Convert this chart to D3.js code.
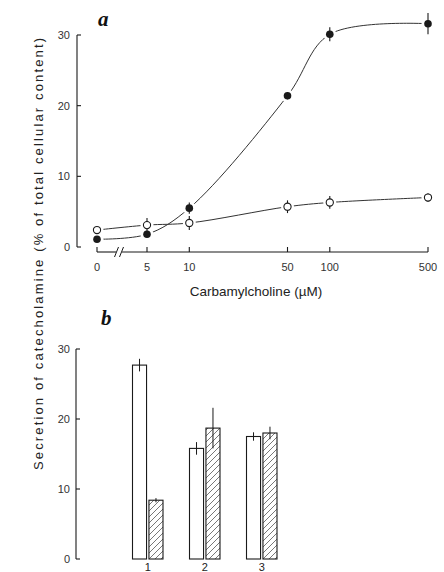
<!DOCTYPE html>
<html><head><meta charset="utf-8">
<script src="https://cdn.jsdelivr.net/npm/d3@7"></script>
<style>body{margin:0;background:#fff}svg{display:block}</style>
</head><body>
<script>
// ---- Data panel a ----
const concentrations = [0, 5, 10, 50, 100, 500];
const xTickLabels = ["0", "5", "10", "50", "100", "500"];
const filledMean = [1.1, 1.8, 5.5, 21.4, 30.1, 31.6];
const filledErr  = [0, 0, 0.8, 0.5, 1.0, 1.5];
const openMean   = [2.4, 3.1, 3.4, 5.7, 6.3, 7.0];
const openErr    = [0.3, 1.0, 1.0, 0.9, 0.9, 0.6];
const yTicksA = [0, 10, 20, 30];
// ---- Data panel b ----
const groups = ["1", "2", "3"];
const openBar  = [27.7, 15.8, 17.5];
const openBarErr = [0.9, 0.9, 0.6];
const hatchBar = [8.4, 18.7, 18.0];
const hatchBarErr = [0.3, 2.9, 0.9];
const yTicksB = [0, 10, 20, 30];

const W = 444, H = 572;
const ink = "#1a1a1a";
const svg = d3.select("body").append("svg").attr("width", W).attr("height", H);
const font = "'Liberation Sans', Arial, sans-serif";

// ---------- Panel a ----------
const yA = d3.scaleLinear().domain([0, 30]).range([247, 35]);
const xLog = d3.scaleLog().domain([5, 500]).range([147, 428]);
const xA = c => c === 0 ? xLog(5) - 50 : xLog(c);
const axisAX = 77, axisAY = 252;

const ga = svg.append("g");
// y axis
ga.append("line").attr("x1", axisAX).attr("x2", axisAX).attr("y1", yA(30)).attr("y2", yA(0))
  .attr("stroke", ink).attr("stroke-width", 1.1);
ga.selectAll(".yta").data(yTicksA).join("line")
  .attr("x1", axisAX).attr("x2", axisAX + 4).attr("y1", d => yA(d)).attr("y2", d => yA(d))
  .attr("stroke", ink).attr("stroke-width", 1.1);
ga.selectAll(".ylA").data(yTicksA).join("text")
  .attr("x", axisAX - 7).attr("y", d => yA(d) + 4).attr("text-anchor", "end")
  .attr("font-family", font).attr("font-size", 11).attr("fill", "#333").text(d => d);
// x axis with break
const x0p = xA(0), bx = x0p + 22;
ga.append("line").attr("x1", x0p).attr("x2", bx - 3).attr("y1", axisAY).attr("y2", axisAY)
  .attr("stroke", ink).attr("stroke-width", 1.1);
ga.append("line").attr("x1", bx + 3).attr("x2", xA(500)).attr("y1", axisAY).attr("y2", axisAY)
  .attr("stroke", ink).attr("stroke-width", 1.1);
[-2.5, 2.5].forEach(o => {
  ga.append("line").attr("x1", bx + o - 2).attr("x2", bx + o + 2)
    .attr("y1", axisAY + 5).attr("y2", axisAY - 5).attr("stroke", ink).attr("stroke-width", 1);
});
ga.selectAll(".xta").data(concentrations).join("line")
  .attr("x1", d => xA(d)).attr("x2", d => xA(d)).attr("y1", axisAY).attr("y2", axisAY - 5)
  .attr("stroke", ink).attr("stroke-width", 1.1);
ga.selectAll(".xla").data(concentrations).join("text")
  .attr("x", d => xA(d)).attr("y", axisAY + 19).attr("text-anchor", "middle")
  .attr("font-family", font).attr("font-size", 11).attr("fill", "#333")
  .text((d, i) => xTickLabels[i]);
ga.append("text").attr("x", 256).attr("y", 296).attr("text-anchor", "middle")
  .attr("font-family", font).attr("font-size", 13.5).attr("fill", "#222")
  .text("Carbamylcholine (µM)");
ga.append("text").attr("x", 98).attr("y", 26).attr("font-family", "'Liberation Serif', 'DejaVu Serif', serif")
  .attr("font-style", "italic").attr("font-weight", "bold").attr("font-size", 21).attr("fill", "#111").text("a");

// curves
const line = d3.line().x(d => xA(d.c)).y(d => yA(d.v)).curve(d3.curveCatmullRom.alpha(0.5));
const fData = concentrations.map((c, i) => ({c, v: filledMean[i], e: filledErr[i]}));
const oData = concentrations.map((c, i) => ({c, v: openMean[i], e: openErr[i]}));
[fData, oData].forEach(dd => {
  ga.append("path").attr("d", line(dd)).attr("fill", "none").attr("stroke", "#333").attr("stroke-width", 1);
});
// halos to create gaps
[...fData, ...oData].forEach(d => {
  ga.append("circle").attr("cx", xA(d.c)).attr("cy", yA(d.v)).attr("r", 6.5).attr("fill", "#fff");
});
// error bars
[...fData, ...oData].forEach(d => {
  if (d.e > 0) ga.append("line").attr("x1", xA(d.c)).attr("x2", xA(d.c))
    .attr("y1", yA(d.v - d.e)).attr("y2", yA(d.v + d.e)).attr("stroke", ink).attr("stroke-width", 1.1);
});
ga.selectAll(".of").data(oData).join("circle")
  .attr("cx", d => xA(d.c)).attr("cy", d => yA(d.v)).attr("r", 3.6)
  .attr("fill", "#fff").attr("stroke", ink).attr("stroke-width", 1.1);
ga.selectAll(".ff").data(fData).join("circle")
  .attr("cx", d => xA(d.c)).attr("cy", d => yA(d.v)).attr("r", 3.8).attr("fill", ink);

// shared y label
svg.append("text").attr("transform", "translate(43,254) rotate(-90)").attr("text-anchor", "middle")
  .attr("font-family", font).attr("font-size", 13).attr("fill", "#222")
  .attr("textLength", 432).attr("lengthAdjust", "spacing")
  .text("Secretion of catecholamine (% of total cellular content)");

// ---------- Panel b ----------
const yB = d3.scaleLinear().domain([0, 30]).range([559, 349]);
const xB = d3.scaleBand().domain(groups).range([132.5, 277]).paddingInner(0.465).paddingOuter(0);
const axisBX = 76;
const gb = svg.append("g");
const defs = svg.append("defs");
const pat = defs.append("pattern").attr("id", "hatch").attr("patternUnits", "userSpaceOnUse")
  .attr("width", 6).attr("height", 6);
pat.append("path").attr("d", "M0,6 L6,0 M-1,1 L1,-1 M5,7 L7,5")
  .attr("stroke", "#555").attr("stroke-width", 0.8);

gb.append("line").attr("x1", axisBX).attr("x2", axisBX).attr("y1", yB(30)).attr("y2", yB(0))
  .attr("stroke", ink).attr("stroke-width", 1.1);
gb.selectAll(".ytb").data(yTicksB).join("line")
  .attr("x1", axisBX).attr("x2", axisBX + 4).attr("y1", d => yB(d)).attr("y2", d => yB(d))
  .attr("stroke", ink).attr("stroke-width", 1.1);
gb.selectAll(".ylb").data(yTicksB).join("text")
  .attr("x", axisBX - 6).attr("y", d => yB(d) + 4).attr("text-anchor", "end")
  .attr("font-family", font).attr("font-size", 11).attr("fill", "#333").text(d => d);
gb.append("text").attr("x", 101).attr("y", 325).attr("font-family", "'Liberation Serif', 'DejaVu Serif', serif")
  .attr("font-style", "italic").attr("font-weight", "bold").attr("font-size", 21).attr("fill", "#111").text("b");

const bw = xB.bandwidth() / 2 - 1.2;
groups.forEach((g, i) => {
  const x0 = xB(g);
  const x1 = x0 + xB.bandwidth() - bw;
  gb.append("rect").attr("x", x0).attr("y", yB(openBar[i])).attr("width", bw)
    .attr("height", yB(0) - yB(openBar[i])).attr("fill", "#fff").attr("stroke", ink).attr("stroke-width", 1.1);
  gb.append("rect").attr("x", x1).attr("y", yB(hatchBar[i])).attr("width", bw)
    .attr("height", yB(0) - yB(hatchBar[i])).attr("fill", "url(#hatch)").attr("stroke", ink).attr("stroke-width", 1.1);
  gb.append("line").attr("x1", x0 + bw / 2).attr("x2", x0 + bw / 2)
    .attr("y1", yB(openBar[i] - openBarErr[i])).attr("y2", yB(openBar[i] + openBarErr[i]))
    .attr("stroke", ink).attr("stroke-width", 1);
  gb.append("line").attr("x1", x1 + bw / 2).attr("x2", x1 + bw / 2)
    .attr("y1", yB(hatchBar[i] - hatchBarErr[i])).attr("y2", yB(hatchBar[i] + hatchBarErr[i]))
    .attr("stroke", ink).attr("stroke-width", 1);
  gb.append("text").attr("x", x0 + xB.bandwidth() / 2).attr("y", 571).attr("text-anchor", "middle")
    .attr("font-family", font).attr("font-size", 11).attr("fill", "#222").text(g);
});
</script>
</body></html>
